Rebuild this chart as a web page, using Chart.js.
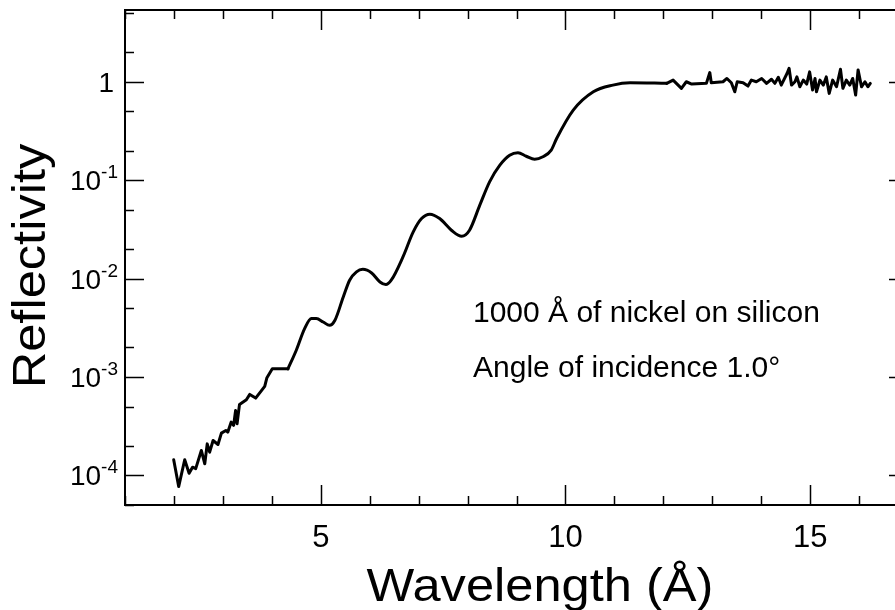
<!DOCTYPE html>
<html>
<head>
<meta charset="utf-8">
<script src="https://cdn.jsdelivr.net/npm/chart.js@4.4.1/dist/chart.umd.min.js"></script>
<style>
  html, body { margin: 0; padding: 0; background: #fff; overflow: hidden; }
  canvas { display: block; }
</style>
</head>
<body>
<canvas id="chart" width="912" height="610"></canvas>
<script>
// noisy low-reflectivity start (wavelength in Angstrom, reflectivity)
const lowX = [1.995, 2.097, 2.22, 2.31, 2.38, 2.445, 2.56, 2.63, 2.68, 2.73, 2.80, 2.90, 2.97, 3.06, 3.10, 3.17, 3.22, 3.26, 3.29, 3.34, 3.48, 3.55, 3.67, 3.855, 3.90, 4.01, 4.33];
const lowR = [1.44e-4, 7.7e-5, 1.44e-4, 1.05e-4, 1.21e-4, 1.17e-4, 1.79e-4, 1.31e-4, 2.09e-4, 1.72e-4, 2.26e-4, 2.06e-4, 2.69e-4, 2.86e-4, 2.75e-4, 3.48e-4, 3.22e-4, 4.57e-4, 3.35e-4, 5.26e-4, 5.87e-4, 6.65e-4, 6.1e-4, 8.02e-4, 9.84e-4, 1.21e-3, 1.21e-3];

// smooth fringes up to total reflection
const fringeX = [4.33, 4.50, 4.67, 4.81, 4.91, 5.05, 5.18, 5.29, 5.46, 5.59, 5.73, 5.86, 6.04, 6.21, 6.33, 6.44, 6.68, 6.89, 7.06, 7.23, 7.43, 7.67, 7.88, 8.04, 8.25, 8.45, 8.66, 8.86, 9.03, 9.20, 9.37, 9.54, 9.71, 9.82, 10.16, 10.57, 10.97, 11.32, 12.07];
const fringeR = [1.21e-3, 1.87e-3, 3.10e-3, 3.92e-3, 3.92e-3, 3.62e-3, 3.35e-3, 3.77e-3, 6.5e-3, 9.62e-3, 1.17e-2, 1.24e-2, 1.14e-2, 9.23e-3, 8.69e-3, 9.62e-3, 1.66e-2, 2.98e-2, 4.07e-2, 4.51e-2, 4.07e-2, 3.10e-2, 2.69e-2, 3.10e-2, 5.57e-2, 9.62e-2, 0.142, 0.179, 0.190, 0.175, 0.163, 0.173, 0.202, 0.265, 0.515, 0.791, 0.925, 0.977, 0.964];

// noisy plateau near R = 1
const plateauX = [12.07, 12.20, 12.37, 12.47, 12.58, 12.88, 12.95, 12.98, 13.22, 13.30, 13.39, 13.46, 13.51, 13.63, 13.73, 13.80, 13.90, 14.01, 14.11, 14.21, 14.28, 14.35, 14.41, 14.53, 14.57, 14.62, 14.69, 14.73, 14.79, 14.86, 14.93, 14.99, 15.05, 15.10, 15.13, 15.20, 15.27, 15.33, 15.39, 15.46, 15.54, 15.62, 15.67, 15.74, 15.81, 15.87, 15.93, 15.98, 16.05, 16.12, 16.18, 16.23];
const plateauR = [0.964, 1.04, 0.857, 1.00, 0.948, 0.963, 1.24, 0.977, 1.00, 1.08, 0.977, 0.791, 1.00, 0.977, 0.904, 1.04, 1.00, 1.08, 0.963, 1.06, 0.963, 1.11, 0.925, 1.22, 1.37, 0.925, 1.00, 1.12, 0.889, 1.04, 0.948, 1.26, 0.824, 1.08, 0.791, 1.04, 0.925, 1.12, 0.762, 1.04, 0.889, 1.34, 0.857, 1.04, 0.925, 1.08, 0.732, 1.32, 0.889, 1.00, 0.889, 0.963];

// axis ticks
const xTicks = [1, 2, 3, 4, 5, 6, 7, 8, 9, 10, 11, 12, 13, 14, 15, 16, 17];
const xLabels = [5, 10, 15];
const yDecades = [1e-4, 1e-3, 1e-2, 1e-1, 1];
const yDecadeExp = [-4, -3, -2, -1, 0];
const yMinor = [5e-5, 2e-4, 5e-4, 2e-3, 5e-3, 2e-2, 5e-2, 0.2, 0.5, 2, 5];

const FONT = '"Liberation Sans", Arial, Helvetica, sans-serif';

function pts(xs, ys) {
  return xs.map((x, i) => ({ x: x, y: ys[i] }));
}

// text stretched along its own direction (the original lettering is a bit wide)
function wideText(ctx, text, x, y, stretch) {
  ctx.save();
  ctx.translate(x, y);
  ctx.scale(stretch, 1);
  ctx.fillText(text, 0, 0);
  ctx.restore();
}

const framePlugin = {
  id: 'frame',
  afterDraw(chart) {
    const ctx = chart.ctx;
    const a = chart.chartArea;
    const xs = chart.scales.x;
    const ys = chart.scales.y;
    ctx.save();
    ctx.strokeStyle = '#000';
    ctx.fillStyle = '#000';

    // box
    ctx.lineWidth = 2;
    ctx.strokeRect(a.left, a.top, a.right - a.left, a.bottom - a.top);

    // inward ticks on all sides
    ctx.lineWidth = 1.5;
    ctx.beginPath();
    xTicks.forEach(v => {
      const px = Math.round(xs.getPixelForValue(v)) + 0.5;
      const len = v % 5 === 0 ? 20 : 9;
      ctx.moveTo(px, a.bottom); ctx.lineTo(px, a.bottom - len);
      ctx.moveTo(px, a.top); ctx.lineTo(px, a.top + len);
    });
    yDecades.forEach(v => {
      const py = Math.round(ys.getPixelForValue(v)) + 0.5;
      ctx.moveTo(a.left, py); ctx.lineTo(a.left + 19, py);
      ctx.moveTo(a.right, py); ctx.lineTo(a.right - 19, py);
    });
    yMinor.forEach(v => {
      const py = Math.round(ys.getPixelForValue(v)) + 0.5;
      ctx.moveTo(a.left, py); ctx.lineTo(a.left + 9, py);
      ctx.moveTo(a.right, py); ctx.lineTo(a.right - 9, py);
    });
    ctx.stroke();

    // x tick labels
    ctx.font = '31px ' + FONT;
    ctx.textAlign = 'center';
    ctx.textBaseline = 'alphabetic';
    xLabels.forEach(v => {
      ctx.fillText(String(v), xs.getPixelForValue(v), 547);
    });

    // y tick labels, with superscript exponents
    ctx.textAlign = 'left';
    yDecades.forEach((v, i) => {
      const py = ys.getPixelForValue(v);
      const exp = yDecadeExp[i];
      ctx.font = '28px ' + FONT;
      if (exp === 0) {
        const w = ctx.measureText('1').width;
        ctx.fillText('1', 114 - w, py + 10);
        return;
      }
      const base = '10';
      const sup = String(exp);
      const bw = ctx.measureText(base).width;
      ctx.font = '19px ' + FONT;
      const sw = ctx.measureText(sup).width;
      const x0 = 118 - sw - bw;
      ctx.fillText(sup, x0 + bw, py - 2);
      ctx.font = '28px ' + FONT;
      ctx.fillText(base, x0, py + 10);
    });

    // axis titles
    ctx.textAlign = 'center';
    ctx.font = '46px ' + FONT;
    wideText(ctx, 'Wavelength (\u00C5)', 540, 601, 1.1);

    ctx.save();
    ctx.translate(45, 266);
    ctx.rotate(-Math.PI / 2);
    wideText(ctx, 'Reflectivity', 0, 0, 1.1);
    ctx.restore();

    // annotation
    ctx.textAlign = 'left';
    ctx.font = '30px ' + FONT;
    ctx.fillText('1000 \u00C5 of nickel on silicon', 473, 322);
    ctx.fillText('Angle of incidence 1.0\u00B0', 473, 377);

    ctx.restore();
  }
};

const lineStyle = {
  borderColor: '#000',
  borderWidth: 3,
  pointRadius: 0,
  fill: false,
  borderJoinStyle: 'round',
  borderCapStyle: 'round'
};

new Chart(document.getElementById('chart'), {
  type: 'line',
  data: {
    datasets: [
      Object.assign({ label: 'low', data: pts(lowX, lowR), tension: 0 }, lineStyle),
      Object.assign({ label: 'fringes', data: pts(fringeX, fringeR), tension: 0.4, cubicInterpolationMode: 'monotone' }, lineStyle),
      Object.assign({ label: 'plateau', data: pts(plateauX, plateauR), tension: 0 }, lineStyle)
    ]
  },
  options: {
    responsive: false,
    animation: false,
    devicePixelRatio: 1,
    layout: { padding: { left: 125, top: 10, right: 4, bottom: 105 } },
    scales: {
      x: { type: 'linear', min: 1, max: 17, display: false },
      y: { type: 'logarithmic', min: 5e-5, max: 5.36, display: false }
    },
    plugins: {
      legend: { display: false },
      tooltip: { enabled: false }
    }
  },
  plugins: [framePlugin]
});
</script>
</body>
</html>
